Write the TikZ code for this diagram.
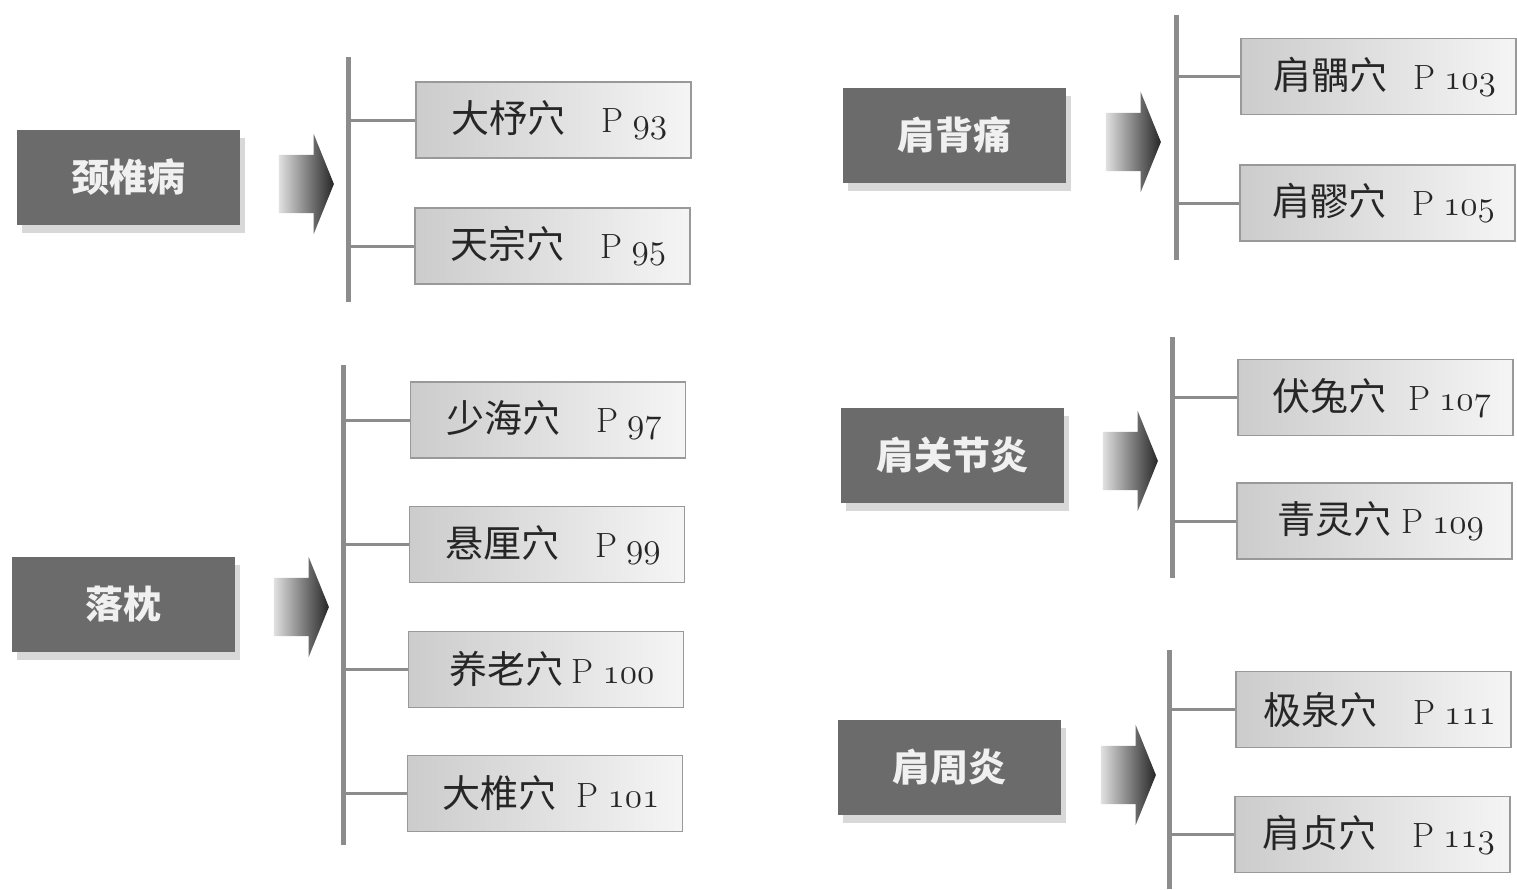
\documentclass[tikz,border=0pt]{standalone}
\usepackage{fontspec}
\usepackage{graphicx}
\newfontfamily\cjk{Noto Sans CJK SC}
\usetikzlibrary{shapes.arrows,shadows}
\newcommand\pnum[1]{{\rmfamily\fontsize{35}{38}\selectfont P\hspace{9pt}\scalebox{1.7}{\fontsize{20.74}{22}\usefont{OML}{cmm}{m}{it}#1}}}

\begin{document}
\begin{tikzpicture}[x=1pt,y=-1pt,
  disease/.style={fill=black!58, text=white!94!black, minimum width=223pt, minimum height=95pt, inner sep=0pt,
    font=\cjk\bfseries\fontsize{38}{40}\selectfont,
    drop shadow={shadow xshift=5pt, shadow yshift=-8pt, opacity=.3}},
  point/.style={draw=black!40, line width=1.2pt, left color=black!20, right color=black!4,
    minimum width=275pt, minimum height=76pt, inner sep=0pt, text=black!85,
    font=\cjk\fontsize{38}{40}\selectfont},
  flow/.style={single arrow, draw=none, left color=black!12, right color=black!85,
    minimum height=55pt, minimum width=100pt, single arrow head extend=21pt,
    single arrow tip angle=136, inner xsep=0pt, inner ysep=29pt},
  bar/.style={draw=black!45, line width=5pt},
  branch/.style={draw=black!45, line width=3pt}]

\fill[white] (0,0) rectangle (1517,889);
\useasboundingbox (0,0) rectangle (1517,889);

\node[disease] (jzb) at (128.5,177.5) {颈椎病};
\node[flow] (f1) at (300.5,184) {};
\coordinate (t1) at (348,57);
\coordinate (u1) at (348,302);
\draw[bar] (t1) -- (u1);
\node[point] (dz) at (553.5,120) {\hspace{12pt}大杼穴\hspace{36pt}\pnum{93}};
\node[point] (tz) at (552.5,246) {\hspace{12pt}天宗穴\hspace{36pt}\pnum{95}};
\draw[branch] (dz.west -| t1) -- (dz.west);
\draw[branch] (tz.west -| t1) -- (tz.west);

\node[disease] (lz) at (123.5,604) {落枕};
\node[flow] (f2) at (295.5,607) {};
\coordinate (t2) at (343,365);
\coordinate (u2) at (343,845);
\draw[bar] (t2) -- (u2);
\node[point] (sh) at (548,420) {\hspace{12pt}少海穴\hspace{36pt}\pnum{97}};
\node[point] (xl) at (547,544.5) {\hspace{12pt}悬厘穴\hspace{36pt}\pnum{99}};
\node[point] (yl) at (546,669.5) {\hspace{12pt}养老穴\hspace{8pt}\pnum{100}};
\node[point] (dzh) at (545,793.5) {\hspace{12pt}大椎穴\hspace{20pt}\pnum{101}};
\draw[branch] (sh.west -| t2) -- (sh.west);
\draw[branch] (xl.west -| t2) -- (xl.west);
\draw[branch] (yl.west -| t2) -- (yl.west);
\draw[branch] (dzh.west -| t2) -- (dzh.west);

\node[disease] (jbt) at (954.5,135) {肩背痛};
\node[flow] (f3) at (1127.5,142) {};
\coordinate (t3) at (1176,15);
\coordinate (u3) at (1176,260);
\draw[bar] (t3) -- (u3);
\node[point] (jy) at (1378.5,76.5) {\hspace{12pt}肩髃穴\hspace{26pt}\pnum{103}};
\node[point] (jl) at (1377.5,203) {\hspace{12pt}肩髎穴\hspace{26pt}\pnum{105}};
\draw[branch] (jy.west -| t3) -- (jy.west);
\draw[branch] (jl.west -| t3) -- (jl.west);

\node[disease] (jgj) at (952.5,455.5) {肩关节炎};
\node[flow] (f4) at (1124.5,461) {};
\coordinate (t4) at (1172,337);
\coordinate (u4) at (1172,578);
\draw[bar] (t4) -- (u4);
\node[point] (ft) at (1375.5,397.5) {\hspace{12pt}伏兔穴\hspace{22pt}\pnum{107}};
\node[point] (ql) at (1374.5,521) {\hspace{12pt}青灵穴\hspace{10pt}\pnum{109}};
\draw[branch] (ft.west -| t4) -- (ft.west);
\draw[branch] (ql.west -| t4) -- (ql.west);

\node[disease] (jzy) at (949.5,767.5) {肩周炎};
\node[flow] (f5) at (1122.5,775) {};
\coordinate (t5) at (1169,650);
\coordinate (u5) at (1169,889);
\draw[bar] (t5) -- (u5);
\node[point] (jq) at (1373.5,709.5) {\hspace{12pt}极泉穴\hspace{36pt}\pnum{111}};
\node[point] (jzh) at (1372.5,834.5) {\hspace{12pt}肩贞穴\hspace{36pt}\pnum{113}};
\draw[branch] (jq.west -| t5) -- (jq.west);
\draw[branch] (jzh.west -| t5) -- (jzh.west);

\end{tikzpicture}
\end{document}
